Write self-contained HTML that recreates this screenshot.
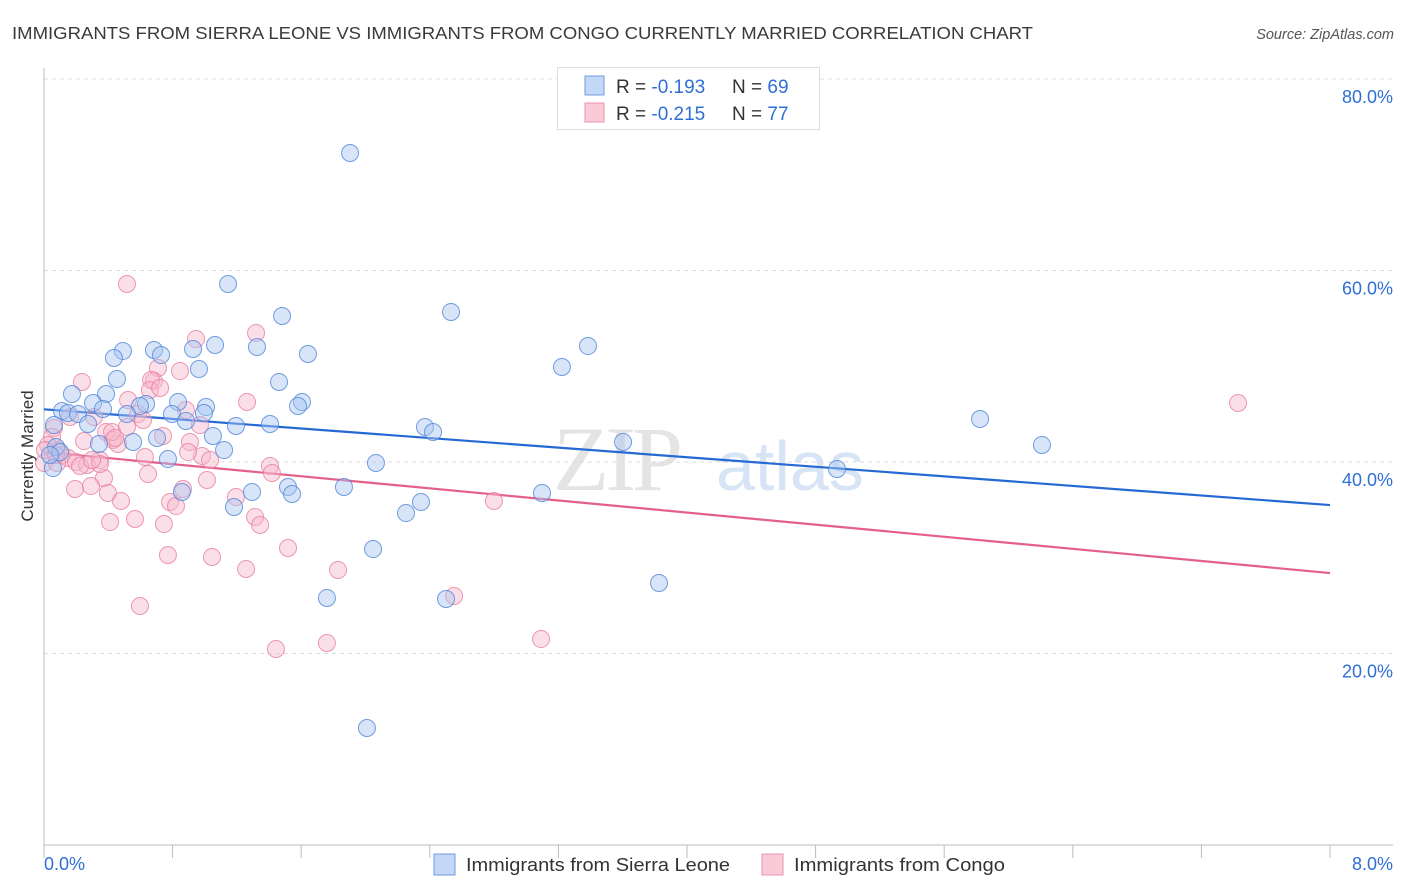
<!DOCTYPE html>
<html><head><meta charset="utf-8"><style>
body{margin:0;background:#fff;font-family:"Liberation Sans",sans-serif;}
#wrap{position:relative;width:1406px;height:892px;overflow:hidden}
</style></head><body>
<div id="wrap">
<svg id="svg" width="1406" height="892" xmlns="http://www.w3.org/2000/svg">
<text x="12" y="39" font-size="17.5" fill="#3a3a3a" textLength="1021" lengthAdjust="spacingAndGlyphs">IMMIGRANTS FROM SIERRA LEONE VS IMMIGRANTS FROM CONGO CURRENTLY MARRIED CORRELATION CHART</text>
<text x="1394" y="39" font-size="14.5" fill="#555" font-style="italic" text-anchor="end">Source: ZipAtlas.com</text>
<g><text x="553" y="490" font-size="92" font-family="Liberation Serif" fill="#e4e4e4" letter-spacing="-4">ZIP</text><text x="716" y="490" font-size="70" fill="#d6e4f5">atlas</text></g>
<g id="grid"></g>
<g id="axes"></g>
<g id="trend"></g>
<g id="pts"></g>
<text transform="translate(33,456) rotate(-90)" font-size="17" fill="#333" text-anchor="middle">Currently Married</text>
<g>
<rect x="557.5" y="67.5" width="262" height="62" fill="#fff" stroke="#ddd"/>
<rect x="585" y="76" width="19" height="19" fill="#c3d7f7" stroke="#6f9be0"/>
<rect x="585" y="103" width="19" height="19" fill="#f9cad8" stroke="#ea94ae"/>
<text x="616" y="93" font-size="19" fill="#333">R = <tspan fill="#2f6fd6">-0.193</tspan></text>
<text x="732" y="93" font-size="19" fill="#333">N = <tspan fill="#2f6fd6">69</tspan></text>
<text x="616" y="120" font-size="19" fill="#333">R = <tspan fill="#2f6fd6">-0.215</tspan></text>
<text x="732" y="120" font-size="19" fill="#333">N = <tspan fill="#2f6fd6">77</tspan></text>
</g>
<g>
<rect x="434" y="854" width="21" height="21" fill="#c3d7f7" stroke="#6f9be0"/>
<text x="466" y="871" font-size="18" fill="#333" textLength="264" lengthAdjust="spacingAndGlyphs">Immigrants from Sierra Leone</text>
<rect x="762" y="854" width="21" height="21" fill="#f9cad8" stroke="#ea94ae"/>
<text x="794" y="871" font-size="18" fill="#333" textLength="211" lengthAdjust="spacingAndGlyphs">Immigrants from Congo</text>
</g>
</svg>
</div>
<script>
const yTicks=[20,40,60,80];
const yTickLabels=["20.0%","40.0%","60.0%","80.0%"];
const xTickLabels=["0.0%","8.0%"];
const blueX=[1.904,1.145,2.532,1.481,3.384,1.064,1.325,0.491,0.684,0.927,0.728,0.435,1.642,3.222,0.964,0.454,1.462,0.174,0.386,0.305,0.635,0.834,1.008,1.605,1.580,0.597,0.367,0.112,0.149,0.212,0.516,0.796,0.883,0.995,1.194,1.406,2.370,2.420,5.823,6.208,3.602,0.274,0.062,0.703,1.051,0.554,0.342,0.075,0.100,1.120,0.056,0.771,2.065,4.933,1.182,1.294,1.518,1.543,1.866,2.345,2.252,3.098,0.858,3.826,2.047,1.760,2.501,2.009,0.037];
const blueY=[72.27,58.59,55.67,55.25,52.11,52.22,52.01,51.59,51.70,51.80,51.17,50.86,51.28,49.92,49.71,48.67,48.36,47.10,47.10,46.16,46.06,46.27,45.74,46.27,45.85,45.85,45.54,45.33,45.12,45.01,45.01,45.01,44.28,45.12,43.76,43.97,43.66,43.13,44.49,41.78,42.09,43.97,43.86,42.51,42.72,42.09,41.88,41.57,41.04,41.25,39.37,40.31,39.90,39.27,35.30,36.87,37.39,36.66,37.39,35.82,34.67,36.76,36.87,27.36,30.91,25.80,25.69,12.22,40.73];
const pinkX=[0.516,0.946,1.319,0.709,0.846,0.684,0.666,0.236,0.659,1.263,0.523,0.883,0.311,0.162,0.585,0.616,0.516,0.386,0.429,0.249,0.062,0.050,0.908,0.740,0.460,0.087,0.025,0.112,0.149,0.199,0.267,0.348,0.224,0.628,0.647,0.983,1.033,0.896,1.406,1.418,1.014,0.373,0.193,0.292,0.398,0.479,0.784,0.821,0.865,1.194,1.313,1.344,0.411,0.566,0.746,1.518,0.771,1.045,1.257,1.829,2.799,7.428,0.597,1.443,1.760,3.092,2.551,0.00,0.081,0.006,0.075,0.348,0.423,0.299,0.970,0.722,0.442];
const pinkY=[58.59,52.85,53.47,49.82,49.50,48.46,48.56,48.36,47.52,46.27,46.48,45.43,44.70,44.70,45.01,44.39,43.66,43.13,42.30,42.19,43.55,42.61,42.09,42.72,41.88,41.25,41.78,40.73,40.42,40.00,39.69,40.21,39.58,40.52,38.75,40.63,40.21,41.04,39.58,38.85,38.12,38.33,37.18,37.49,36.76,35.93,35.82,35.40,37.18,36.34,34.26,33.42,33.73,34.05,33.52,31.02,30.29,30.08,28.83,28.72,35.93,46.16,24.96,20.47,21.10,21.51,26.01,39.90,39.90,41.25,40.73,39.79,43.13,40.21,43.86,47.73,42.51];
const blueTrend=[45.5,35.5];
const pinkTrend=[41.04,28.4];
const trendX=[0,8];

const NS="http://www.w3.org/2000/svg";
const X0=44,X1=1330,Y0=845,Y80=79;
const sx=v=>X0+(v/8)*(X1-X0);
const sy=v=>Y0-(v/80)*(Y0-Y80);
function mk(tag,attrs,parent){const e=document.createElementNS(NS,tag);for(const k in attrs)e.setAttribute(k,attrs[k]);document.getElementById(parent).appendChild(e);return e;}
yTicks.forEach((t,i)=>{
 const l=mk('line',{x1:X0,x2:1393,y1:sy(t),y2:sy(t),stroke:'#ddd','stroke-dasharray':'4,4'},'grid');
 
 
 const tx=mk('text',{x:1393,y:sy(t)+24,'font-size':18,fill:'#2f6fd6','text-anchor':'end'},'grid');
 tx.textContent=yTickLabels[i];
 
 
});
let a=mk('line',{x1:X0,x2:X0,y1:68,y2:Y0,stroke:'#bbb'},'axes');


a=mk('line',{x1:X0,x2:1393,y1:Y0,y2:Y0,stroke:'#bbb'},'axes');


for(let i=0;i<=10;i++){const t=mk('line',{x1:sx(i*0.8),x2:sx(i*0.8),y1:Y0,y2:Y0+13,stroke:'#bbb'},'axes');
 
 }
let xl=mk('text',{x:44,y:870,'font-size':18,fill:'#2f6fd6'},'axes');xl.textContent=xTickLabels[0];


xl=mk('text',{x:1393,y:870,'font-size':18,fill:'#2f6fd6','text-anchor':'end'},'axes');xl.textContent=xTickLabels[1];


function pts(X,Y,fill,stroke,name){X.forEach((x,i)=>{const c=mk('circle',{cx:sx(x),cy:sy(Y[i]),r:8.5,fill:fill,'fill-opacity':0.45,stroke:stroke,'stroke-opacity':0.8,'stroke-width':1},'pts');
 
 });}
pts(pinkX,pinkY,'#f7b9cb','#e8809f','point-congo');
pts(blueX,blueY,'#a9c6f2','#4f86d8','point-sierra-leone');
let tl=mk('line',{x1:sx(trendX[0]),y1:sy(blueTrend[0]),x2:sx(trendX[1]),y2:sy(blueTrend[1]),stroke:'#2469d4','stroke-width':2.2},'trend');


tl=mk('line',{x1:sx(trendX[0]),y1:sy(pinkTrend[0]),x2:sx(trendX[1]),y2:sy(pinkTrend[1]),stroke:'#e4608a','stroke-width':2.2},'trend');


</script>
</body></html>
